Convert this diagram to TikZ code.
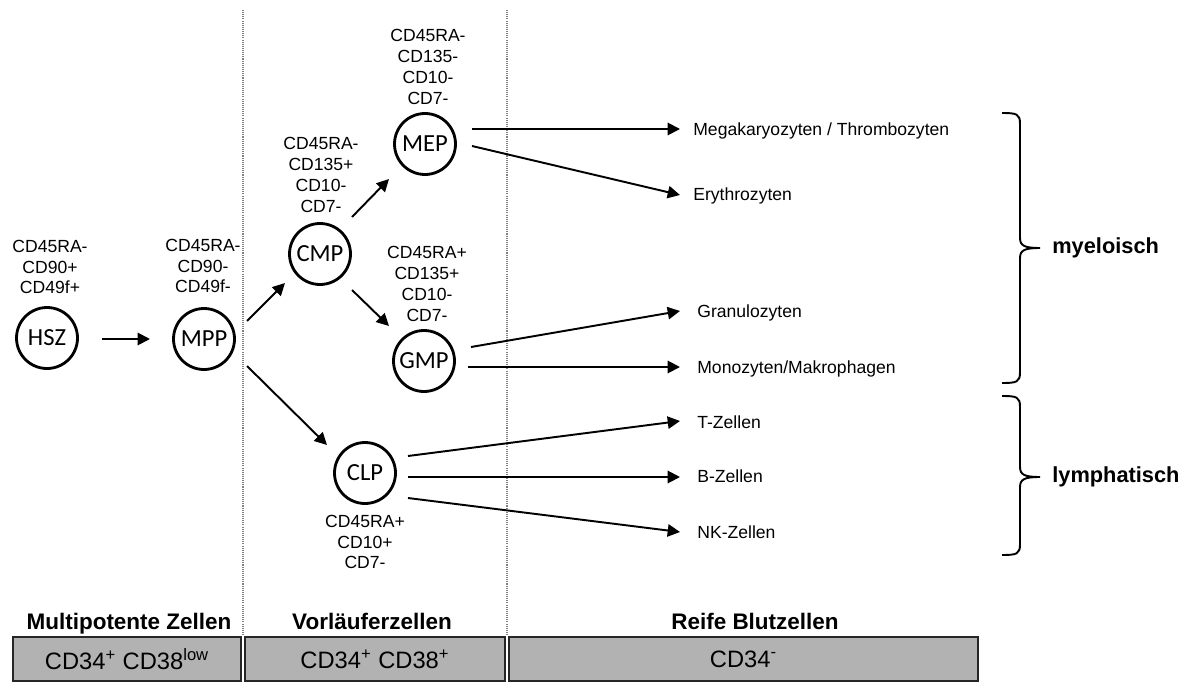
\documentclass[tikz,border=0pt]{standalone}
\usepackage{fontspec}
\setmainfont{Liberation Sans}
\newfontfamily\cellfont{Carlito}
\usetikzlibrary{arrows.meta}
\definecolor{boxgray}{RGB}{178,178,178}

\begin{document}
\begin{tikzpicture}[x=0.02cm, y=-0.02cm, >={Triangle[length=7pt,width=7pt]},
    cell/.style={circle, draw, line width=1.6pt, minimum size=1.22cm, inner sep=0pt,
        font=\cellfont\fontsize{14}{14}\selectfont},
    marker/.style={align=center, inner sep=0pt, font=\fontsize{10}{11.8}\selectfont},
    lbl/.style={anchor=west, inner sep=0pt, text height=7.2pt, text depth=0pt,
        font=\fontsize{10}{12}\selectfont},
    arr/.style={->, line width=1.1pt},
    brace/.style={line width=1.1pt},
    group/.style={anchor=west, inner sep=0pt, font=\bfseries\fontsize{12.4}{14}\selectfont},
    heading/.style={inner sep=0pt, text height=9.2pt, text depth=0pt,
        font=\bfseries\fontsize{12.8}{14}\selectfont},
    zone/.style={draw=black!85, fill=boxgray, line width=0.7pt, inner sep=0pt,
        minimum height=0.88cm, font=\fontsize{13.5}{15}\selectfont},
    sep/.style={gray, line width=0.6pt, dash pattern=on 0.6pt off 0.6pt}]
    \useasboundingbox (0,0) rectangle (1185,682);

    % stage separators
    \draw[sep] (243,10) -- (243,635);
    \draw[sep] (507,10) -- (507,635);

    % cells
    \node[cell] (HSZ) at (47,338) {HSZ};
    \node[cell] (MPP) at (204,339) {MPP};
    \node[cell] (CMP) at (320,254) {CMP};
    \node[cell] (MEP) at (425,144) {MEP};
    \node[cell] (GMP) at (424,361) {GMP};
    \node[cell] (CLP) at (365,473) {CLP};

    \node[marker] (hszm) at (50,267) {CD45RA-\\CD90+\\CD49f+};
    \node[marker] (mppm) at (203,266) {CD45RA-\\CD90-\\CD49f-};
    \node[marker] (cmpm) at (321,175) {CD45RA-\\CD135+\\CD10-\\CD7-};
    \node[marker] (mepm) at (428,67) {CD45RA-\\CD135-\\CD10-\\CD7-};
    \node[marker] (gmpm) at (427,284) {CD45RA+\\CD135+\\CD10-\\CD7-};
    \node[marker] (clpm) at (365,542) {CD45RA+\\CD10+\\CD7-};

    % mature cells
    \node[lbl] (mega) at (693,129) {Megakaryozyten / Thrombozyten};
    \node[lbl] (ery) at (693,194) {Erythrozyten};
    \node[lbl] (gran) at (697,311) {Granulozyten};
    \node[lbl] (mono) at (697,367) {Monozyten/Makrophagen};
    \node[lbl] (tz) at (697,422) {T-Zellen};
    \node[lbl] (bz) at (697,476) {B-Zellen};
    \node[lbl] (nk) at (697,532) {NK-Zellen};

    \draw[arr] ([shift={(55,1)}]HSZ.center) -- ([shift={(-54,0)}]MPP.center);
    \draw[arr] ([shift={(43,-18)}]MPP.center) -- ([shift={(-35,29)}]CMP.center);
    \draw[arr] ([shift={(43,27)}]MPP.center) -- ([shift={(-38,-28)}]CLP.center);
    \draw[arr] ([shift={(32,-37)}]CMP.center) -- ([shift={(-36,35)}]MEP.center);
    \draw[arr] ([shift={(32,36)}]CMP.center) -- ([shift={(-35,-35)}]GMP.center);
    \draw[arr] ([shift={(47,-15)}]MEP.center) -- ([shift={(-13,0)}]mega.west);
    \draw[arr] ([shift={(47,2)}]MEP.center) -- ([shift={(-13,1)}]ery.west);
    \draw[arr] ([shift={(47,-14)}]GMP.center) -- ([shift={(-17,0)}]gran.west);
    \draw[arr] ([shift={(44,6)}]GMP.center) -- ([shift={(-17,0)}]mono.west);
    \draw[arr] ([shift={(43,-17)}]CLP.center) -- ([shift={(-17,-1)}]tz.west);
    \draw[arr] ([shift={(43,4)}]CLP.center) -- ([shift={(-17,1)}]bz.west);
    \draw[arr] ([shift={(43,25)}]CLP.center) -- ([shift={(-17,0)}]nk.west);

    % lineages
    \draw[brace] (1002,113) .. controls (1017,113) and (1020,114) .. (1020,124)
        -- (1020,238) .. controls (1020,246) and (1025,248) .. (1040,248)
        .. controls (1025,248) and (1020,250) .. (1020,258)
        -- (1020,372) .. controls (1020,382) and (1017,383) .. (1002,383);
    \node[group] (myel) at (1052,248) {myeloisch};
    \draw[brace] (1002,396) .. controls (1017,396) and (1020,397) .. (1020,407)
        -- (1020,467) .. controls (1020,475) and (1025,477) .. (1040,477)
        .. controls (1025,477) and (1020,479) .. (1020,487)
        -- (1020,544) .. controls (1020,554) and (1017,555) .. (1002,555);
    \node[group] (lymph) at (1052,477) {lymphatisch};

    % stages
    \node[heading] (hmulti) at (129,621) {Multipotente Zellen};
    \node[heading] (hvor) at (372,621) {Vorläuferzellen};
    \node[heading] (hreif) at (755,621) {Reife Blutzellen};
    \node[zone, minimum width=4.56cm] (zmulti) at (127,659) {CD34\textsuperscript{+} CD38\textsuperscript{low}};
    \node[zone, minimum width=5.2cm] (zvor) at (375,659) {CD34\textsuperscript{+} CD38\textsuperscript{+}};
    \node[zone, minimum width=9.38cm] (zreif) at (743.5,659) {CD34\textsuperscript{-}};
\end{tikzpicture}
\end{document}
